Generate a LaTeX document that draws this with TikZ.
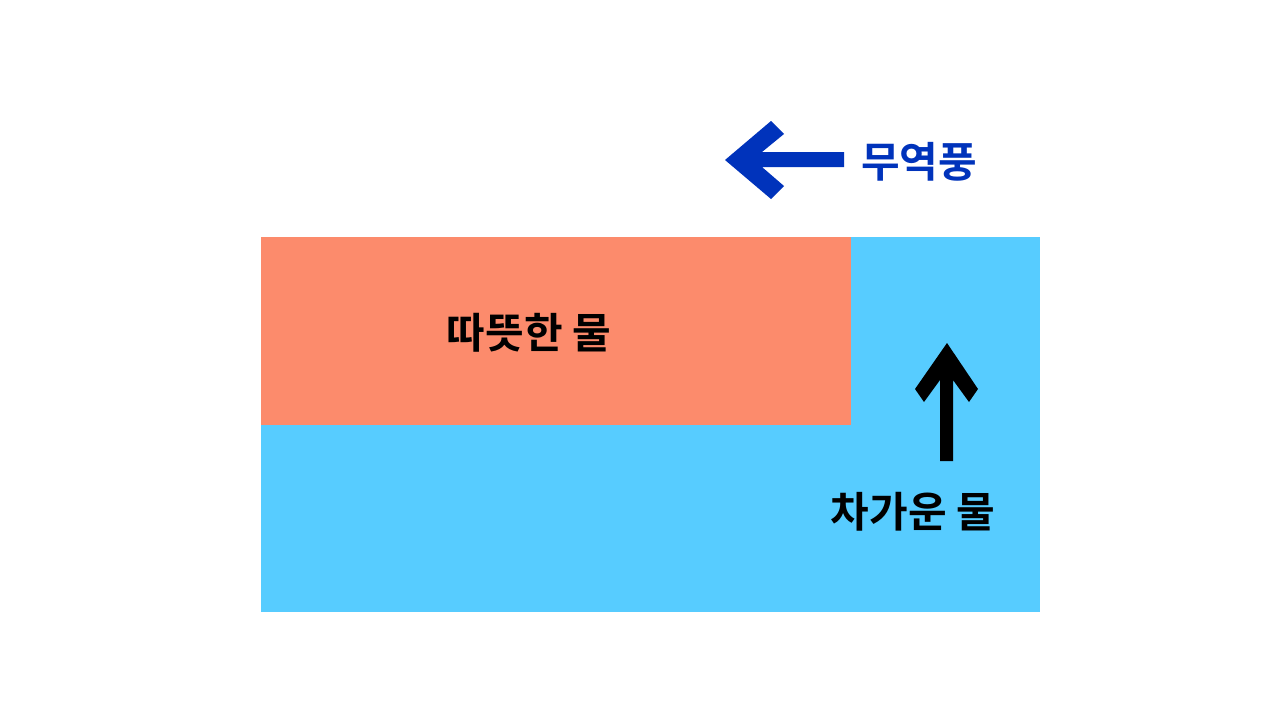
\documentclass[tikz,border=0pt]{standalone}
\usepackage{fontspec}
\newfontfamily\krfont{Noto Sans CJK KR}[BoldFont={* Bold}]
\usepackage{tikz}
\usetikzlibrary{positioning}
\definecolor{warmred}{RGB}{252,139,108}
\definecolor{coldblue}{RGB}{87,204,255}
\definecolor{windblue}{RGB}{0,51,187}

\begin{document}
\begin{tikzpicture}[x=1pt,y=-1pt,
  label/.style={font=\krfont\bfseries\fontsize{42}{46}\selectfont,inner sep=0pt}]
  \useasboundingbox[fill=white] (0,0) rectangle (1280,720);
  \fill[coldblue] (261,237) rectangle (1040,612);
  \fill[warmred] (261,237) rectangle (851,425);
  % trade wind arrow
  \fill[windblue] (725,160)--(771,121)--(784,134)--(762,152)--(844,152)--(844,167)
    --(762,167)--(784,186)--(771,199)--cycle;
  % upwelling arrow
  \fill[black] (947,343)--(978,389)--(969,402)--(953,380)--(953,461)--(940,461)
    --(940,380)--(924,402)--(915,389)--cycle;
  \node[label,text=windblue] (wind) at (919,162) {무역풍};
  \node[label] (warm) at (529,333) {따뜻한 물};
  \node[label] (cold) at (913,512) {차가운 물};
\end{tikzpicture}
\end{document}
